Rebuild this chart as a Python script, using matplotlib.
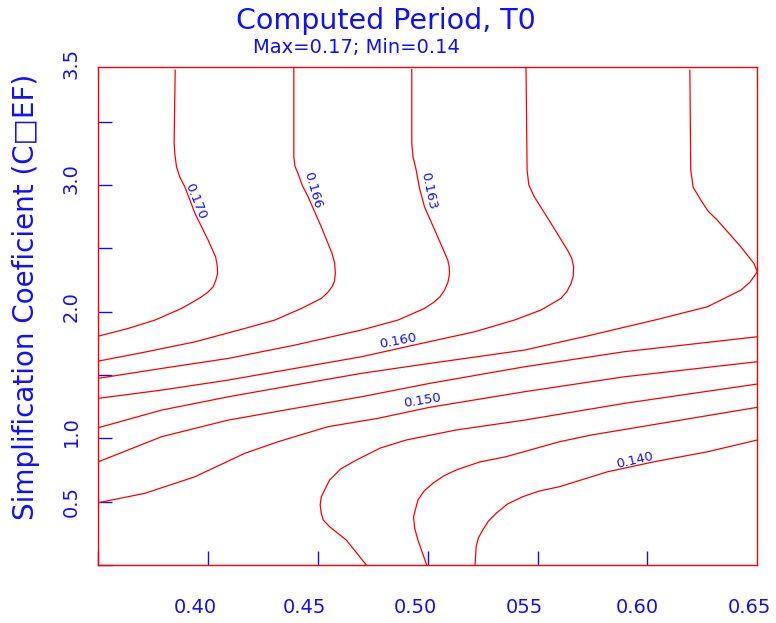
import matplotlib
matplotlib.use('Agg')
import matplotlib.pyplot as plt

red = '#ff0000'
blue = '#1010ff'

# contour lines (x = period ratio, y = COEF)
x170 = [0.385, 0.3845, 0.3849, 0.3856, 0.3871, 0.3894, 0.3940, 0.400, 0.4034, 0.4041, 0.4043,
        0.4035, 0.4023, 0.3999, 0.3970, 0.3926, 0.3879, 0.3758, 0.3636, 0.350]
y170 = [3.907, 3.328, 3.236, 3.144, 3.062, 2.986, 2.776, 2.565, 2.433, 2.368, 2.302,
        2.249, 2.197, 2.155, 2.118, 2.072, 2.026, 1.934, 1.868, 1.807]

x166 = [0.439, 0.439, 0.4395, 0.4409, 0.4428, 0.4455, 0.4515, 0.4564, 0.4576, 0.4579, 0.4575,
        0.4564, 0.4542, 0.4515, 0.4425, 0.4303, 0.4167, 0.3940, 0.3712, 0.350]
y166 = [3.93, 3.223, 3.149, 3.092, 2.999, 2.907, 2.670, 2.460, 2.384, 2.302, 2.241,
        2.197, 2.147, 2.105, 2.026, 1.934, 1.868, 1.762, 1.681, 1.610]

x163 = [0.4927, 0.4927, 0.4933, 0.4947, 0.4962, 0.4985, 0.5045, 0.5091, 0.5097, 0.5099, 0.5092,
        0.5076, 0.5056, 0.5030, 0.4985, 0.4864, 0.4697, 0.4394, 0.4091, 0.3788, 0.350]
y163 = [3.912, 3.328, 3.220, 3.118, 2.976, 2.828, 2.591, 2.407, 2.360, 2.302, 2.234,
        2.170, 2.119, 2.078, 2.026, 1.934, 1.855, 1.736, 1.631, 1.552, 1.474]

x160 = [0.5447, 0.5452, 0.5460, 0.5485, 0.5561, 0.5636, 0.5655, 0.5664, 0.5662, 0.5652, 0.5633,
        0.5606, 0.5515, 0.5394, 0.5212, 0.4985, 0.4697, 0.4394, 0.4091, 0.3788, 0.350]
y160 = [3.93, 3.118, 2.999, 2.907, 2.697, 2.486, 2.423, 2.354, 2.281, 2.223, 2.159,
        2.105, 2.013, 1.934, 1.841, 1.755, 1.644, 1.552, 1.460, 1.381, 1.316]

x157 = [0.6193, 0.6197, 0.6208, 0.6243, 0.6276, 0.6318, 0.6425, 0.6485, 0.650, 0.6467, 0.6425,
        0.6273, 0.6045, 0.5743, 0.5440, 0.4985, 0.4697, 0.4394, 0.4091, 0.3788, 0.350]
y157 = [3.907, 3.118, 2.983, 2.881, 2.794, 2.723, 2.512, 2.381, 2.315, 2.234, 2.170,
        2.039, 1.939, 1.815, 1.697, 1.586, 1.513, 1.421, 1.328, 1.223, 1.084]

x153 = [0.350, 0.3788, 0.4091, 0.4394, 0.4697, 0.5008, 0.5440, 0.5894, 0.650]
y153 = [0.815, 1.013, 1.144, 1.237, 1.328, 1.434, 1.565, 1.684, 1.802]

x150 = [0.350, 0.3712, 0.3940, 0.4167, 0.4318, 0.4545, 0.4773, 0.5008, 0.5440, 0.5894, 0.650]
y150 = [0.492, 0.566, 0.697, 0.882, 0.973, 1.092, 1.158, 1.245, 1.368, 1.486, 1.605]

x147 = [0.4720, 0.4629, 0.4553, 0.4524, 0.4515, 0.4510, 0.4515, 0.4553, 0.4603, 0.4675, 0.4783,
        0.4902, 0.5129, 0.5440, 0.5894, 0.650]
y147 = [0.0, 0.197, 0.302, 0.355, 0.408, 0.474, 0.539, 0.671, 0.758, 0.829, 0.923,
        0.987, 1.066, 1.144, 1.276, 1.429]

x143 = [0.4995, 0.4955, 0.4940, 0.4935, 0.4955, 0.4983, 0.5023, 0.5071, 0.5129, 0.5235, 0.5356,
        0.5599, 0.5743, 0.650]
y143 = [0.0, 0.197, 0.292, 0.381, 0.513, 0.584, 0.645, 0.702, 0.750, 0.813, 0.855,
        0.973, 1.026, 1.245]

x140 = [0.5215, 0.5220, 0.5230, 0.5250, 0.5276, 0.5311, 0.5362, 0.5432, 0.5507, 0.5599, 0.5818,
        0.6030, 0.6273, 0.650]
y140 = [0.0, 0.144, 0.213, 0.276, 0.347, 0.408, 0.481, 0.539, 0.584, 0.618, 0.736,
        0.815, 0.894, 0.987]

lines = [(x170, y170), (x166, y166), (x163, y163), (x160, y160), (x157, y157),
         (x153, y153), (x150, y150), (x147, y147), (x143, y143), (x140, y140)]

# contour labels
lab_text = ['0.170', '0.166', '0.163', '0.160', '0.150', '0.140']
lab_x = [0.3944, 0.4476, 0.5003, 0.4862, 0.4976, 0.5940]
lab_y = [2.873, 2.960, 2.952, 1.768, 1.302, 0.829]
lab_rot = [-68, -74, -78, 11, 9, 13]

# axis ticks and labels
xticks = [0.35, 0.40, 0.45, 0.50, 0.55, 0.60]
xtick_text = ['0.40', '0.45', '0.50', '055', '0.60', '0.65']
xtick_pos = [0.3940, 0.4440, 0.4945, 0.5440, 0.5953, 0.6462]
yticks = [0.0, 0.5, 1.0, 1.5, 2.0, 2.5, 3.0, 3.5]
ytick_text = ['0.5', '1.0', '2.0', '3.0', '3.5']
ytick_pos = [0.5, 1.05, 2.04, 3.05, 3.96]

fig = plt.figure(figsize=(7.76, 6.23), dpi=100)
ax = fig.add_axes([0.1267, 0.0931, 0.8492, 0.7989])

for x, y in lines:
    ax.plot(x, y, color=red, lw=0.9, solid_joinstyle='round')

for t, x, y, r in zip(lab_text, lab_x, lab_y, lab_rot):
    ax.text(x, y, t, color=blue, fontsize=9.5, rotation=r,
            ha='center', va='center', rotation_mode='anchor')

ax.set_xlim(0.35, 0.65)
ax.set_ylim(0, 3.93)
ax.set_xticks(xticks)
ax.set_yticks(yticks)
ax.set_xticklabels([])
ax.set_yticklabels([])
ax.tick_params(direction='in', length=10, width=1, color=blue,
               top=False, right=False)
for s in ax.spines.values():
    s.set_color(red)
    s.set_linewidth(1)

for t, x in zip(xtick_text, xtick_pos):
    ax.text(x, -0.085, t, transform=ax.get_xaxis_transform(), color=blue,
            fontsize=14, ha='center', va='center')
for t, y in zip(ytick_text, ytick_pos):
    ax.text(-0.041, y, t, transform=ax.get_yaxis_transform(), color=blue,
            fontsize=14, ha='center', va='center', rotation=90)

fig.text(0.034, 0.523, 'Simplification Coeficient (C\u25a1EF)', color=blue,
         fontsize=20, rotation=90, ha='center', va='center')
fig.text(0.497, 0.966, 'Computed Period, T0', color=blue, fontsize=20.5,
         ha='center', va='center')
fig.text(0.459, 0.924, 'Max=0.17; Min=0.14', color=blue, fontsize=14,
         ha='center', va='center')

fig.savefig('out.png', dpi=100)
